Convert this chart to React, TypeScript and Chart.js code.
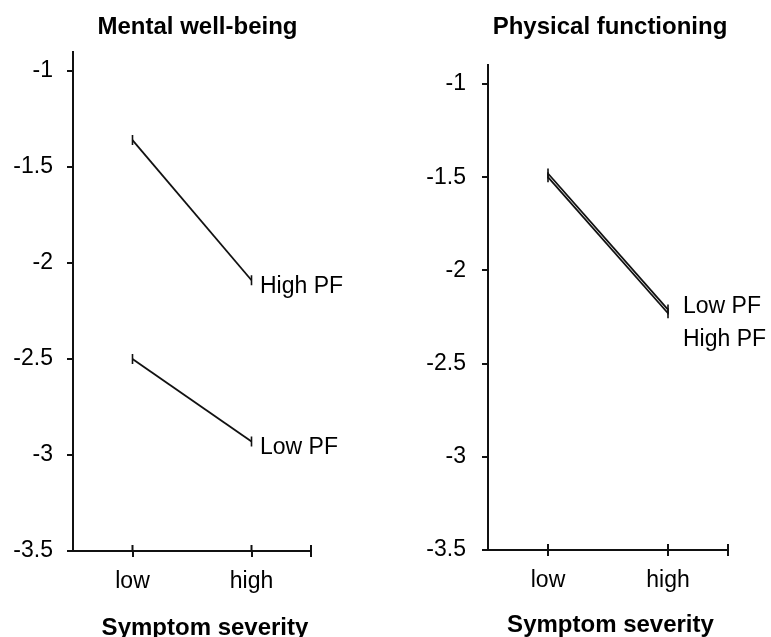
import React, { useEffect, useRef } from "react";
import { Chart, registerables } from "chart.js";
Chart.register(...registerables);

// ---------- data ----------
const categories = ["low", "high"];
const categoryPositions = [1, 3];
const xAxisEnd = 4;
const yTicks = [-3.5, -3, -2.5, -2, -1.5, -1];
const yMin = -3.5;
const yMax = -0.9;

const xTitle = "Symptom severity";
const mentalTitle = "Mental well-being";
const physicalTitle = "Physical functioning";

const mentalHighPF = [-1.36, -2.09];
const mentalLowPF = [-2.5, -2.93];
const physicalLowPF = [-1.48, -2.21];
const physicalHighPF = [-1.5, -2.23];

// ---------- style ----------
const FONT = "'Liberation Sans', Arial, Helvetica, sans-serif";
const INK = "#111";

type Label = { text: string; dx: number; dy: number };
type PanelCfg = {
  width: number;
  left: number;
  axisX: number;
  chartRight: number;
  chartBottom: number;
  pxPerUnit: number;
  tickPad: number;
  title: string;
  titleX: number;
  titleY: number;
  xTitleX: number;
  xTitleY: number;
  series: { values: number[]; label: Label }[];
};

const panels: PanelCfg[] = [
  {
    width: 385,
    left: 0,
    axisX: 73,
    chartRight: 311,
    chartBottom: 551,
    pxPerUnit: 192,
    tickPad: 14,
    title: mentalTitle,
    titleX: 197.5,
    titleY: 34,
    xTitleX: 205,
    xTitleY: 635,
    series: [
      { values: mentalHighPF, label: { text: "High PF", dx: 8.5, dy: 12.7 } },
      { values: mentalLowPF, label: { text: "Low PF", dx: 8.5, dy: 12.4 } },
    ],
  },
  {
    width: 386,
    left: 385,
    axisX: 103,
    chartRight: 343,
    chartBottom: 550,
    pxPerUnit: 186.4,
    tickPad: 16,
    title: physicalTitle,
    titleX: 225,
    titleY: 34,
    xTitleX: 225.5,
    xTitleY: 632,
    series: [
      { values: physicalLowPF, label: { text: "Low PF", dx: 15, dy: 3.5 } },
      { values: physicalHighPF, label: { text: "High PF", dx: 15, dy: 32.7 } },
    ],
  },
];

function Panel({ cfg }: { cfg: PanelCfg }) {
  const ref = useRef<HTMLCanvasElement | null>(null);
  useEffect(() => {
    const canvas = ref.current;
    if (!canvas) return;
    const H = 637;
    const top = cfg.chartBottom - (yMax - yMin) * cfg.pxPerUnit;

    const textPlugin = {
      id: "panelText",
      afterDraw(chart: any) {
        const ctx = chart.ctx as CanvasRenderingContext2D;
        const xs = chart.scales.x;
        const ys = chart.scales.y;
        ctx.save();
        // inward part of x tick marks
        ctx.strokeStyle = INK;
        ctx.lineWidth = 2;
        const bottom = chart.chartArea.bottom;
        [...categoryPositions, xAxisEnd].forEach((v) => {
          const px = xs.getPixelForValue(v);
          ctx.beginPath();
          ctx.moveTo(px, bottom);
          ctx.lineTo(px, bottom - 6);
          ctx.stroke();
        });
        ctx.fillStyle = "#000";
        ctx.textBaseline = "alphabetic";
        ctx.textAlign = "center";
        ctx.font = `bold 24px ${FONT}`;
        ctx.fillText(cfg.title, cfg.titleX, cfg.titleY);
        ctx.fillText(xTitle, cfg.xTitleX, cfg.xTitleY);
        ctx.font = `23px ${FONT}`;
        ctx.textAlign = "left";
        cfg.series.forEach((s) => {
          const lastIdx = s.values.length - 1;
          const px = xs.getPixelForValue(categoryPositions[lastIdx]);
          const py = ys.getPixelForValue(s.values[lastIdx]);
          ctx.fillText(s.label.text, px + s.label.dx, py + s.label.dy);
        });
        ctx.restore();
      },
    };

    const chart = new Chart(canvas, {
      type: "scatter",
      data: {
        datasets: cfg.series.map((s) => ({
          label: s.label.text,
          data: s.values.map((v, i) => ({ x: categoryPositions[i], y: v })),
          showLine: true,
          borderColor: INK,
          borderWidth: 1.8,
          pointStyle: "line",
          rotation: 90,
          pointRadius: 5,
          pointBorderWidth: 1.6,
          pointBorderColor: INK,
          pointBackgroundColor: INK,
        })),
      },
      options: {
        responsive: false,
        animation: false,
        events: [],
        layout: {
          padding: {
            top,
            left: 0,
            right: cfg.width - cfg.chartRight,
            bottom: 0,
          },
        },
        plugins: {
          legend: { display: false },
          tooltip: { enabled: false },
          title: { display: false },
        },
        scales: {
          x: {
            type: "linear",
            min: 0,
            max: xAxisEnd,
            afterBuildTicks: (s: any) => {
              s.ticks = [...categoryPositions, xAxisEnd].map((v) => ({ value: v }));
            },
            afterFit: (s: any) => {
              s.height = H - cfg.chartBottom;
            },
            ticks: {
              autoSkip: false,
              maxRotation: 0,
              padding: 11,
              color: "#000",
              font: { family: FONT, size: 23 },
              callback: (v: any) => {
                const i = categoryPositions.indexOf(Number(v));
                return i >= 0 ? categories[i] : "";
              },
            },
            grid: {
              drawOnChartArea: false,
              drawTicks: true,
              tickLength: 6,
              color: INK,
              lineWidth: 2,
            },
            border: { display: true, color: INK, width: 2 },
          },
          y: {
            type: "linear",
            min: yMin,
            max: yMax,
            afterBuildTicks: (s: any) => {
              s.ticks = yTicks.map((v) => ({ value: v }));
            },
            afterFit: (s: any) => {
              s.width = cfg.axisX;
            },
            ticks: {
              padding: cfg.tickPad,
              color: "#000",
              font: { family: FONT, size: 23 },
              callback: (v: any) => String(v),
            },
            grid: {
              drawOnChartArea: false,
              drawTicks: true,
              tickLength: 6,
              color: INK,
              lineWidth: 2,
            },
            border: { display: true, color: INK, width: 2 },
          },
        },
      },
      plugins: [textPlugin],
    } as any);
    return () => chart.destroy();
  }, [cfg]);

  return (
    <canvas
      ref={ref}
      width={cfg.width}
      height={637}
      style={{ position: "absolute", left: cfg.left, top: 0, width: cfg.width, height: 637 }}
    />
  );
}

export default function App() {
  return (
    <div style={{ position: "absolute", left: 0, top: 0, width: 771, height: 637, background: "#fff" }}>
      {panels.map((p, i) => (
        <Panel key={i} cfg={p} />
      ))}
    </div>
  );
}
